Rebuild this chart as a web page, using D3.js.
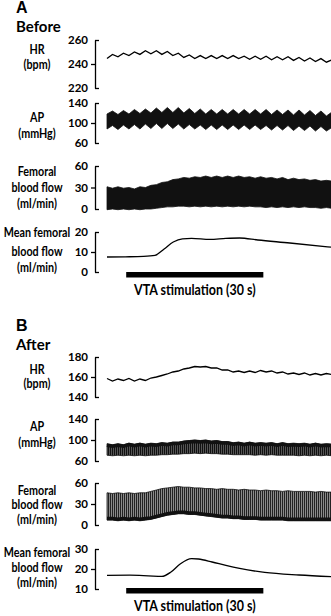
<!DOCTYPE html>
<html>
<head>
<meta charset="utf-8">
<script src="https://cdn.jsdelivr.net/npm/d3@7"></script>
<style>
body { margin: 0; background: #fff; }
svg text { font-family: Lato, "Open Sans", sans-serif; font-weight: bold; fill: #000; }
.axis path, .axis line { stroke: #000; stroke-width: 1.3; }
.axis text { font-size: 11.5px; }
</style>
</head>
<body>
<div id="chart-area"></div>
<script>
// time grid (s) used by the beat-to-beat traces
var tGrid = [0,1.2,2.4,3.6,4.8,6,7.2,8.4,9.6,10.8,12,13.2,14.4,15.6,16.8,18,19.2,20.4,21.6,22.8,
             24,25.2,26.4,27.6,28.8,30,31.2,32.4,33.6,34.8,36,37.2,38.4,39.6,40.8,42,43.2,44.4,45.6,46.8,48,49.2];
var stim = [4.2, 34.2];   // VTA stimulation, 30 s

// A: before
var hrA = [244.5,248,246,249,247,250,248,251,248.5,251,248,250.5,247,249,245.5,247.5,244.5,247,244.5,247,
           244.5,247,244.5,247,244.5,246.5,244,246.5,244,246.5,243.5,246,243.5,246,243,245.5,242.5,245,242,244.5,241.5,243.5];
var apA_hi = [118,124,117,125,118,127,119,128,120,130,121,131,121,131,120,129,119,128,118,127,
              118,127,118,127,118,127,118,127,118,127,117,126,117,126,116,126,116,125,115,124,114,122];
var apA_lo = [88,95,87,96,88,97,88,98,89,99,89,99,89,98,88,97,88,96,87,96,
              87,96,87,96,87,96,87,96,87,95,86,95,86,95,85,94,85,94,84,93,84,91];
var fbfA_hi = [31,29,31,29,30,28,31,30,33,34,37,38,41,42,44,43,45,44,46,44,
               46,44,46,44,46,44,45,43,45,43,44,42,44,41,43,41,42,40,41,39,40,39];
var fbfA_lo = [-1,0,-1,0,-1,0,-1,0,0,1,2,3,3,4,4,3,4,3,4,3,
               4,3,4,3,4,3,4,3,3,2,3,2,3,2,3,2,3,2,2,1,2,1];
var tMeanA = [0,4,8,10.5,12.5,14.5,16.5,18.5,22.5,26,29,33,40,49];
var meanA  = [7.5,7.6,7.8,8.3,11.5,15,16.6,16.8,16.3,16.8,17,16,14.5,12.4];

// B: after
var hrB = [158.5,156,158,156.5,158.5,156,158,156.5,159,160,161.5,163,165,166,168,169,170.5,170,170.5,169,
           169,167,167,165,166,164.5,166,164.5,166.5,165,166,164,165,163,164,162.5,164,162,163.5,162,163.5,162.5];
var apB_hi = [93,91,93,91,94,92,94,92,94,93,95,94,96,96,98,99,100,99,100,98,
              99,97,97,95,96,94,96,94,95,94,95,93,95,93,94,93,94,92,94,92,93,92];
var apB_lo = [71,70,71,70,71,70,71,70,71,71,72,72,73,73,74,74,75,74,75,74,
              74,73,73,72,72,72,72,71,72,71,72,71,71,71,71,70,71,70,71,70,71,70];
var fbfB_hi = [46,45,46,45,46,45,46,46,48,50,52,53,54,55,54,54,53,53,52,52,
               51,52,51,51,50,51,50,50,49,50,49,49,48,49,48,48,48,48,47,48,47,47];
var fbfB_lo = [7,7,6,7,6,7,6,7,8,10,12,14,15,16,16,15,15,14,13,12,
               11,10,10,9,9,8,8,8,7,7,7,7,7,6,6,6,6,6,6,6,6,6];
var tMeanB = [0,5,9,12,14,16,18.5,20,23,26,29,34.5,42,49];
var meanB  = [16.8,16.9,16.6,16.3,18.5,22.5,25.2,25,23.5,21.8,20.3,18.3,17,16.2];

var width = 331, height = 616;
var axisX = 95;

var svg = d3.select("#chart-area").append("svg")
    .attr("width", width)
    .attr("height", height);

var defs = svg.append("defs");
var p1 = defs.append("pattern").attr("id", "stripeDark")
    .attr("width", 2).attr("height", 8).attr("patternUnits", "userSpaceOnUse");
p1.append("rect").attr("width", 2).attr("height", 8).attr("fill", "#555");
p1.append("rect").attr("width", 1).attr("height", 8).attr("fill", "#111");
var p2 = defs.append("pattern").attr("id", "stripeLight")
    .attr("width", 2).attr("height", 8).attr("patternUnits", "userSpaceOnUse");
p2.append("rect").attr("width", 2).attr("height", 8).attr("fill", "#8a8a8a");
p2.append("rect").attr("width", 1).attr("height", 8).attr("fill", "#222");

var x = d3.scaleLinear().domain([0, 49]).range([107, 331]);

function rows(a, b) { return a.map((d, i) => ({ t: tGrid[i], hi: d, lo: b ? b[i] : d })); }
function pts(ts, vs) { return ts.map((t, i) => ({ t: t, v: vs[i] })); }

// narrow bold text (the figure was set in a Calibri-like face)
function label(tx, ty, s, size) {
  return svg.append("text")
      .attr("transform", "translate(" + tx + "," + ty + ") scale(0.86,1)")
      .attr("text-anchor", "middle").style("font-size", size + "px").text(s);
}

var panels = [
  { letter: "A", title: "Before", letterY: 13, titleY: 32, barY: 272, stimY: 295,
    tracks: [
      { domain: [220, 260], range: [88, 40], ticks: [220, 240, 260], kind: "line", data: rows(hrA),
        label: ["HR", "(bpm)"], labelY: [54, 69] },
      { domain: [60, 140], range: [143, 103], ticks: [60, 100, 140], kind: "band", data: rows(apA_hi, apA_lo),
        fill: "#111", label: ["AP", "(mmHg)"], labelY: [122, 138] },
      { domain: [0, 60], range: [209, 166], ticks: [0, 30, 60], kind: "band", data: rows(fbfA_hi, fbfA_lo),
        fill: "#111", label: ["Femoral", "blood flow", "(ml/min)"], labelY: [176, 192, 208] },
      { domain: [0, 20], range: [272, 232], ticks: [0, 10, 20], kind: "mean", data: pts(tMeanA, meanA),
        label: ["Mean femoral", "blood flow", "(ml/min)"], labelY: [237, 256, 272] }
    ] },
  { letter: "B", title: "After", letterY: 331, titleY: 350, barY: 588, stimY: 611,
    tracks: [
      { domain: [140, 180], range: [397, 357], ticks: [140, 160, 180], kind: "line", data: rows(hrB),
        label: ["HR", "(bpm)"], labelY: [374, 388] },
      { domain: [60, 140], range: [461, 419], ticks: [60, 100, 140], kind: "band", data: rows(apB_hi, apB_lo),
        fill: "url(#stripeDark)", edge: "hi", label: ["AP", "(mmHg)"], labelY: [431, 447] },
      { domain: [0, 60], range: [525, 483], ticks: [0, 30, 60], kind: "band", data: rows(fbfB_hi, fbfB_lo),
        fill: "url(#stripeLight)", edge: "lo", label: ["Femoral", "blood flow", "(ml/min)"], labelY: [495, 509, 523.5] },
      { domain: [10, 30], range: [589, 549], ticks: [10, 20, 30], kind: "mean", data: pts(tMeanB, meanB),
        label: ["Mean femoral", "blood flow", "(ml/min)"], labelY: [557, 572, 587] }
    ] }
];

panels.forEach(function(p) {
  svg.append("text").attr("x", 16).attr("y", p.letterY)
      .style("font-family", "'Liberation Sans', Arial, sans-serif")
      .style("font-size", "16px").text(p.letter);
  svg.append("text").attr("x", 16).attr("y", p.titleY)
      .style("font-size", "15px").text(p.title);

  p.tracks.forEach(function(tr) {
    var y = d3.scaleLinear().domain(tr.domain).range(tr.range);

    var g = svg.append("g").attr("class", "axis")
        .attr("transform", "translate(" + axisX + ",0)")
        .call(d3.axisLeft(y).tickValues(tr.ticks).tickSize(-4).tickSizeOuter(0).tickPadding(7));
    g.selectAll(".tick").filter((d) => d === tr.ticks[1]).select("line").attr("x2", -4);

    tr.label.forEach(function(s, i) { label(37, tr.labelY[i], s, 12.5); });

    if (tr.kind === "line") {
      svg.append("path").datum(tr.data)
          .attr("fill", "none").attr("stroke", "#000").attr("stroke-width", 1.3)
          .attr("d", d3.line().x((d) => x(d.t)).y((d) => y(d.hi)));
    } else if (tr.kind === "band") {
      svg.append("path").datum(tr.data)
          .attr("fill", tr.fill).attr("stroke", "#111").attr("stroke-width", 0.8)
          .attr("d", d3.area().x((d) => x(d.t)).y0((d) => y(d.lo)).y1((d) => y(d.hi)));
      if (tr.edge) {
        svg.append("path").datum(tr.data)
            .attr("fill", "none").attr("stroke", "#111").attr("stroke-width", 3.5)
            .attr("d", d3.line().x((d) => x(d.t)).y((d) => y(d[tr.edge]) + (tr.edge === "hi" ? 1.5 : -1.5)));
      }
    } else {
      svg.append("path").datum(tr.data)
          .attr("fill", "none").attr("stroke", "#000").attr("stroke-width", 1.3)
          .attr("d", d3.line().curve(d3.curveMonotoneX).x((d) => x(d.t)).y((d) => y(d.v)));
    }
  });

  svg.append("rect")
      .attr("x", x(stim[0])).attr("y", p.barY)
      .attr("width", x(stim[1]) - x(stim[0])).attr("height", 5.5)
      .attr("fill", "#000");
  label((x(stim[0]) + x(stim[1])) / 2, p.stimY, "VTA stimulation (30 s)", 14.5);
});
</script>
</body>
</html>
